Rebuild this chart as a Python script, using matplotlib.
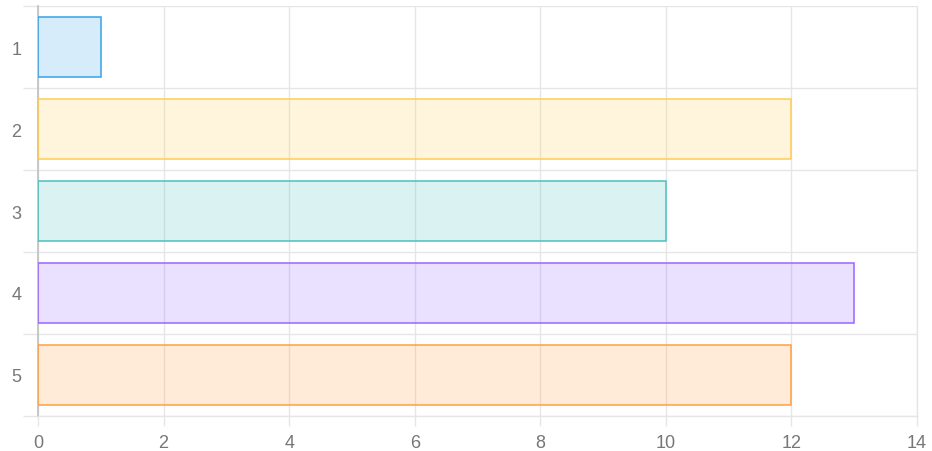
import numpy as np
import matplotlib.pyplot as plt
from matplotlib.ticker import MultipleLocator, FixedLocator

# chart data
labels = ['1', '2', '3', '4', '5']
values = [1, 12, 10, 13, 12]
fill_colors = ['#36a2eb', '#ffcd56', '#4bc0c0', '#9966ff', '#ff9f40']

plt.rcParams['font.family'] = ['Liberation Sans', 'DejaVu Sans']

fig = plt.figure(figsize=(9.32, 4.52), dpi=100)
ax = fig.add_axes([38 / 932, 1 - 417 / 452, 879 / 932, 410 / 452])

pos = np.arange(len(labels))
for p, v, c in zip(pos, values, fill_colors):
    ax.barh(p, v, height=0.72, color=c, alpha=0.2, zorder=2)
    ax.barh(p, v, height=0.72, facecolor='none', edgecolor=c,
            linewidth=1.1, zorder=3)

ax.set_xlim(0, 14)
ax.set_ylim(len(labels) - 0.5, -0.5)

ax.xaxis.set_major_locator(MultipleLocator(2))
ax.set_yticks(pos)
ax.set_yticklabels(labels)
ax.yaxis.set_minor_locator(FixedLocator(np.arange(-0.5, len(labels), 1.0)))

grid_col = '#e6e6e6'
ax.grid(True, axis='x', which='major', color=grid_col, linewidth=1, zorder=0)
ax.grid(True, axis='y', which='minor', color=grid_col, linewidth=1, zorder=0)

ax.tick_params(axis='x', which='major', length=7, width=1, color=grid_col,
               pad=6, labelsize=13, labelcolor='#777777')
ax.tick_params(axis='y', which='major', length=0, pad=12,
               labelsize=13, labelcolor='#777777')
ax.tick_params(axis='y', which='minor', length=11, width=1, color=grid_col)

ax.spines['top'].set_visible(False)
for side in ['right', 'bottom']:
    ax.spines[side].set_color(grid_col)
    ax.spines[side].set_linewidth(1)
ax.spines['left'].set_color('#bfbfbf')
ax.spines['left'].set_linewidth(1.2)

fig.savefig('out.png', dpi=100)
